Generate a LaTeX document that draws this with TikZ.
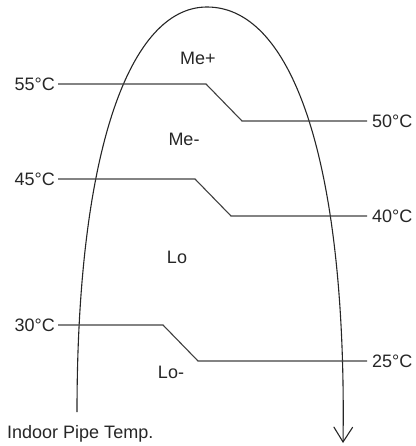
\documentclass[tikz,border=0pt]{standalone}
\usepackage{fontspec}
\setmainfont{Liberation Sans}
\usetikzlibrary{arrows.meta}
\begin{document}
\begin{tikzpicture}[x=1pt,y=-1pt,
  lbl/.style={inner sep=0pt,font=\fontsize{18}{20}\selectfont,text=black!85},
  level/.style={line width=1.1pt,draw=black!75},
  flow/.style={line width=1.1pt,draw=black!85,-{Straight Barb[length=15pt,width=19pt,line width=1.1pt]}}]
\useasboundingbox (0,0) rectangle (415,446);
% curve
\coordinate (cs) at (77,412);
\coordinate (ctop) at (207,7);
\coordinate (ce) at (343,443);
\draw[flow] (cs) .. controls (77,150) and (130,7) .. (ctop)
  .. controls (295,7) and (347,170) .. (ce);
% labels left
\node[lbl,anchor=east] (t55) at (55,84) {55°C};
\node[lbl,anchor=east] (t45) at (55,179) {45°C};
\node[lbl,anchor=east] (t30) at (55,325) {30°C};
% labels right
\node[lbl,anchor=west] (t50) at (372,121) {50°C};
\node[lbl,anchor=west] (t40) at (372,216) {40°C};
\node[lbl,anchor=west] (t25) at (372,361) {25°C};
% corner coordinates
\coordinate (a1) at (206,84);  \coordinate (a2) at (242,121);
\coordinate (b1) at (195,179); \coordinate (b2) at (231,216);
\coordinate (c1) at (163,325); \coordinate (c2) at (198,361);
\draw[level] (t55.east) ++(3,0) -- (a1) -- (a2) -- ([xshift=-5pt]t50.west);
\draw[level] (t45.east) ++(3,0) -- (b1) -- (b2) -- ([xshift=-5pt]t40.west);
\draw[level] (t30.east) ++(3,0) -- (c1) -- (c2) -- ([xshift=-5pt]t25.west);
% zone labels
\node[lbl] (mep) at (198,58) {Me+};
\node[lbl] (mem) at (184,139) {Me-};
\node[lbl] (lo) at (177,257) {Lo};
\node[lbl] (lom) at (171,372) {Lo-};
\node[lbl,anchor=base west] (ipt) at (7,438) {Indoor Pipe Temp.};
\end{tikzpicture}
\end{document}
